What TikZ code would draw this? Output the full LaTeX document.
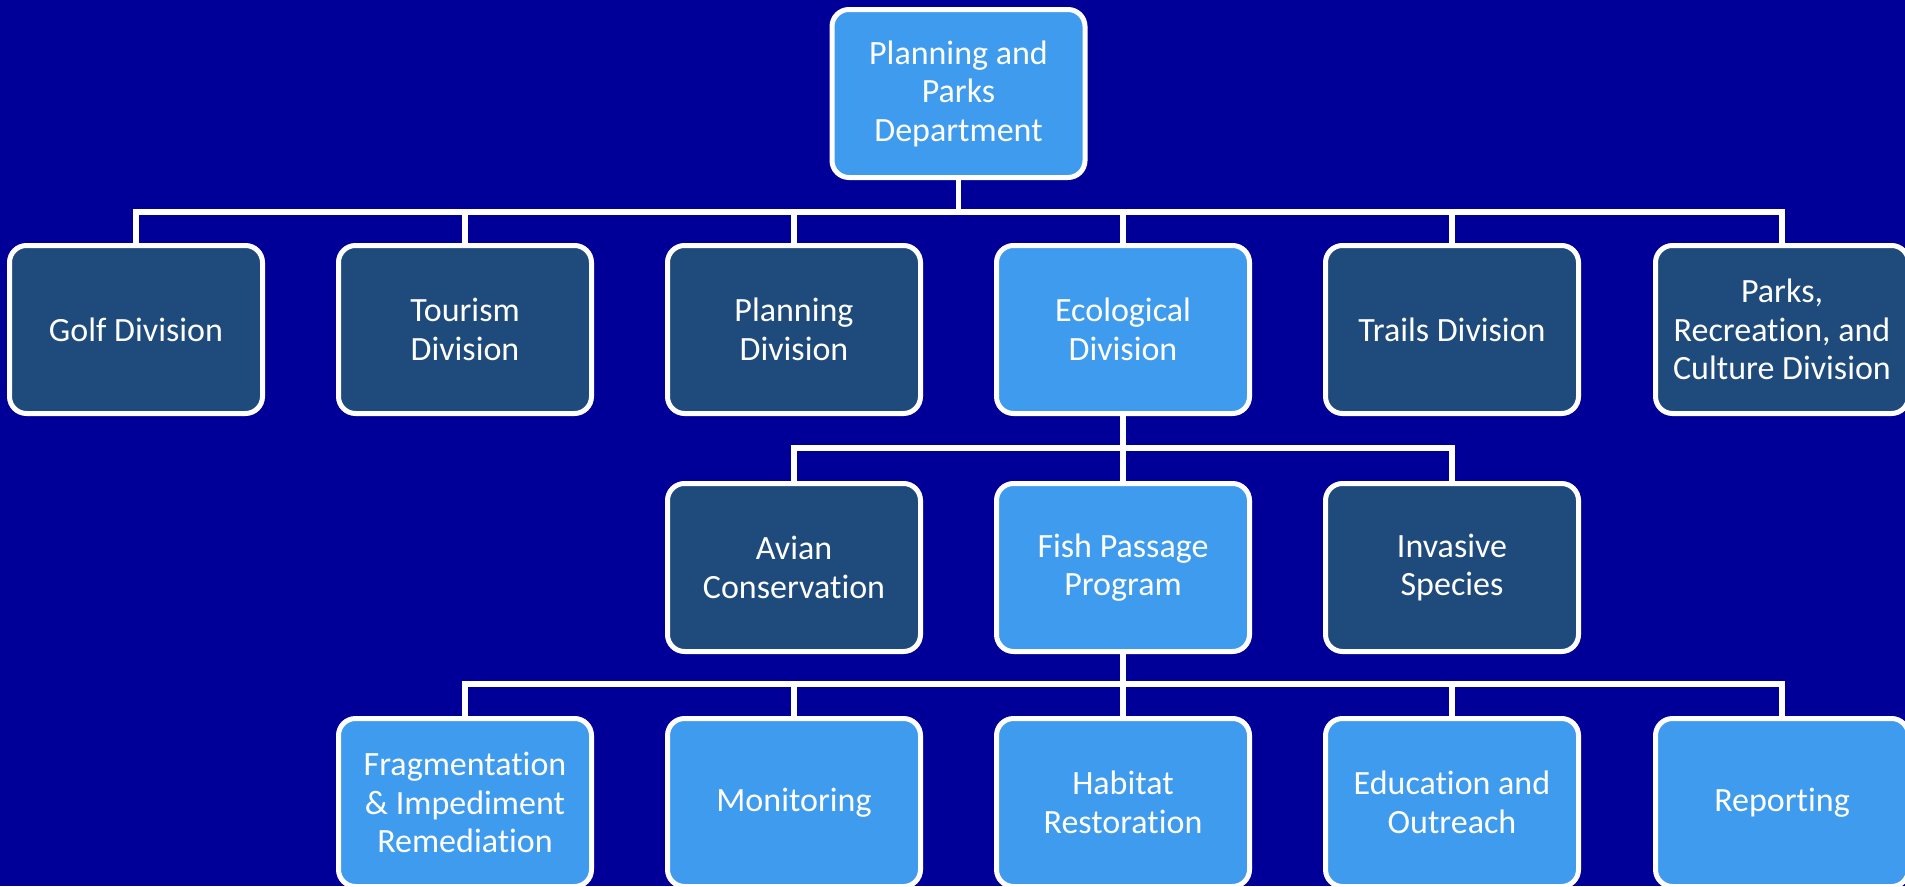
\documentclass[tikz,border=0pt]{standalone}
\usepackage{fontspec}
\setmainfont{Carlito}[RawFeature=-liga]
\begin{document}
\definecolor{pagebg}{HTML}{000099}
\definecolor{unitdark}{HTML}{1F4A7C}
\definecolor{unitlight}{HTML}{3F9BEE}
\begin{tikzpicture}[x=1pt,y=-1pt,
  unit/.style={draw=white, line width=5pt, rounded corners=17pt,
    minimum width=253pt, minimum height=168pt, inner sep=0pt,
    align=center, text=white,
    font=\fontsize{34}{38.5}\selectfont},
  dark/.style={unit, fill=unitdark},
  light/.style={unit, fill=unitlight},
  conn/.style={draw=white, line width=5.5pt}]
  \fill[pagebg] (0,0) rectangle (1905,886);
  \useasboundingbox (0,0) rectangle (1905,886);

  % bus levels
  \coordinate (busA) at (0,212);
  \coordinate (busB) at (0,448);
  \coordinate (busC) at (0,684);

  % department
  \node[light] (dept) at (958.5,93.5) {Planning and\\Parks\\Department};

  % divisions
  \node[dark]  (golf)    at (136,329.5)  {Golf Division};
  \node[dark]  (tourism) at (465,329.5)  {Tourism\\Division};
  \node[dark]  (plan)    at (794,329.5)  {Planning\\Division};
  \node[light] (eco)     at (1123,329.5) {Ecological\\Division};
  \node[dark]  (trails)  at (1452,329.5) {Trails Division};
  \node[dark]  (parks)   at (1782,329.5) {Parks,\\Recreation, and\\Culture Division};

  % ecological programs
  \node[dark]  (avian)    at (794,567.5)  {Avian\\Conservation};
  \node[light] (fish)     at (1123,567.5) {Fish Passage\\Program};
  \node[dark]  (invasive) at (1452,567.5) {Invasive\\Species};

  % fish passage tasks
  \node[light] (frag)    at (465,802.5)  {Fragmentation\\\& Impediment\\Remediation};
  \node[light] (monitor) at (794,802.5)  {Monitoring};
  \node[light] (habitat) at (1123,802.5) {Habitat\\Restoration};
  \node[light] (edu)     at (1452,802.5) {Education and\\Outreach};
  \node[light] (report)  at (1782,802.5) {Reporting};

  % connectors
  \foreach \c in {golf,tourism,plan,eco,trails,parks}
    \draw[conn] (dept.south) -- (dept.south |- busA) -| (\c.north);
  \foreach \c in {avian,fish,invasive}
    \draw[conn] (eco.south) -- (eco.south |- busB) -| (\c.north);
  \foreach \c in {frag,monitor,habitat,edu,report}
    \draw[conn] (fish.south) -- (fish.south |- busC) -| (\c.north);
\end{tikzpicture}
\end{document}
